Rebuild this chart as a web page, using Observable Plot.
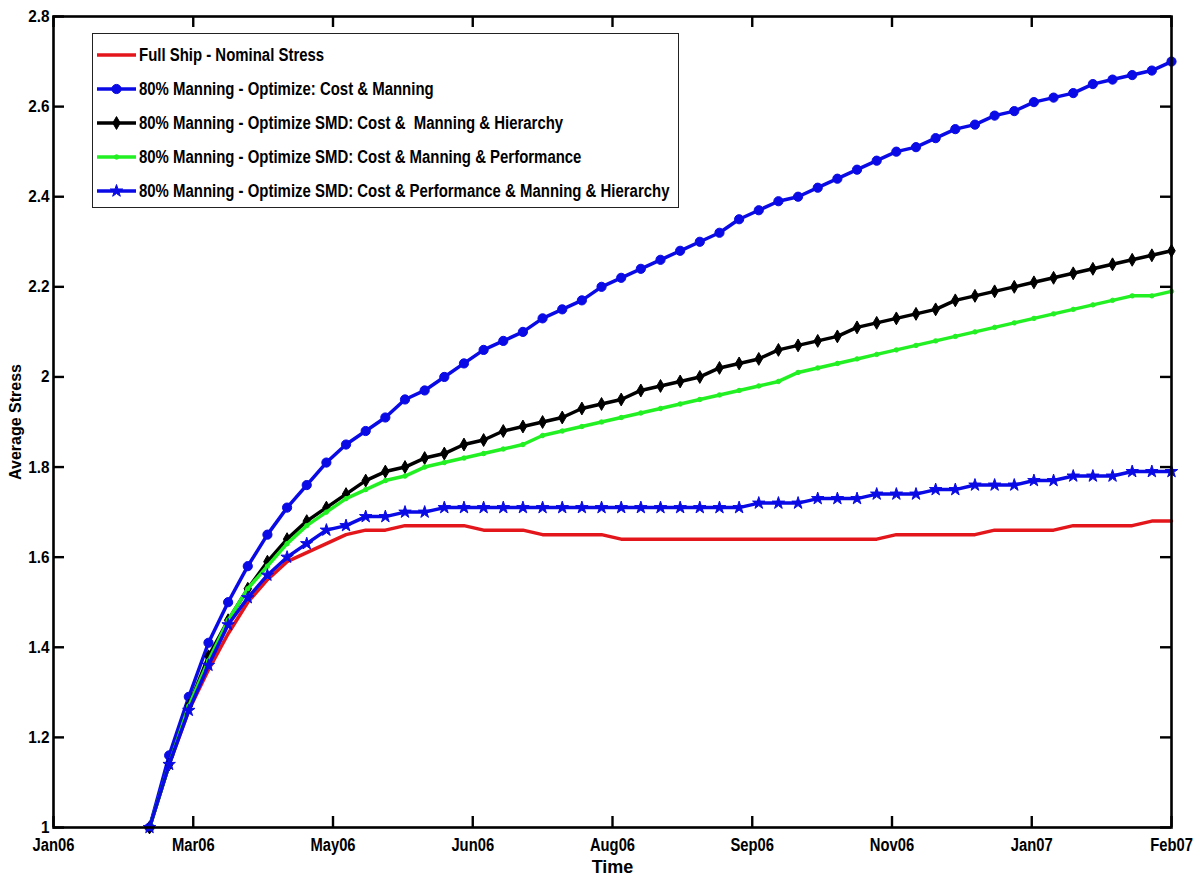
<!DOCTYPE html>
<html><head><meta charset="utf-8">
<script src="https://cdn.jsdelivr.net/npm/d3@7"></script>
<script src="https://cdn.jsdelivr.net/npm/@observablehq/plot@0.6"></script>
<style>
body{margin:0;background:#fff}
#wrap{position:relative;width:1196px;height:878px;background:#fff}
#legend{position:absolute;left:92px;top:33px;width:587px;height:175px;border:1px solid #222;background:#fff;box-sizing:border-box}
.row{position:absolute;left:0;height:34px;display:flex;align-items:center;font-family:"Liberation Sans",Arial,sans-serif;font-weight:bold;font-size:18px;white-space:nowrap;color:#000}
.row svg{display:block;margin-left:3px;margin-right:1px;flex:none}
.row span{display:inline-block;transform:scaleX(0.83);transform-origin:0 50%;white-space:pre}
</style></head><body><div id="wrap"></div>
<script>
// weekly sample index (53 weekly points)
const weeks = d3.range(53);

const fullShipNominal = [1.00,1.14,1.26,1.35,1.43,1.50,1.55,1.59,1.61,1.63,1.65,1.66,1.66,
  1.67,1.67,1.67,1.67,1.66,1.66,1.66,1.65,1.65,1.65,1.65,
  1.64,1.64,1.64,1.64,1.64,1.64,1.64,1.64,1.64,1.64,1.64,1.64,1.64,1.64,
  1.65,1.65,1.65,1.65,1.65,1.66,1.66,1.66,1.66,1.67,1.67,1.67,1.67,1.68,1.68];

const costManning = [1.00,1.16,1.29,1.41,1.50,1.58,1.65,1.71,1.76,1.81,1.85,1.88,1.91,1.95,1.97,2.00,
  2.03,2.06,2.08,2.10,2.13,2.15,2.17,2.20,2.22,2.24,2.26,2.28,2.30,2.32,2.35,2.37,2.39,2.40,
  2.42,2.44,2.46,2.48,2.50,2.51,2.53,2.55,2.56,2.58,2.59,2.61,2.62,2.63,2.65,2.66,2.67,2.68,2.70];

const costManningHierarchy = [1.00,1.14,1.27,1.38,1.46,1.53,1.59,1.64,1.68,1.71,1.74,1.77,1.79,1.80,
  1.82,1.83,1.85,1.86,1.88,1.89,1.90,1.91,1.93,1.94,1.95,1.97,1.98,1.99,2.00,2.02,2.03,2.04,2.06,
  2.07,2.08,2.09,2.11,2.12,2.13,2.14,2.15,2.17,2.18,2.19,2.20,2.21,2.22,2.23,2.24,2.25,2.26,2.27,2.28];

const costManningPerformance = [1.00,1.14,1.27,1.37,1.46,1.53,1.58,1.63,1.67,1.70,1.73,1.75,1.77,1.78,
  1.80,1.81,1.82,1.83,1.84,1.85,1.87,1.88,1.89,1.90,1.91,1.92,1.93,1.94,1.95,1.96,1.97,1.98,1.99,
  2.01,2.02,2.03,2.04,2.05,2.06,2.07,2.08,2.09,2.10,2.11,2.12,2.13,2.14,2.15,2.16,2.17,2.18,2.18,2.19];

const costPerfManningHierarchy = [1.00,1.14,1.26,1.36,1.45,1.51,1.56,1.60,1.63,1.66,1.67,1.69,1.69,1.70,1.70,
  1.71,1.71,1.71,1.71,1.71,1.71,1.71,1.71,1.71,1.71,1.71,1.71,1.71,1.71,1.71,1.71,
  1.72,1.72,1.72,1.73,1.73,1.73,1.74,1.74,1.74,1.75,1.75,1.76,1.76,1.76,1.77,1.77,1.78,1.78,1.78,1.79,1.79,1.79];

const seriesNames = [
  "Full Ship - Nominal Stress",
  "80% Manning - Optimize: Cost & Manning",
  "80% Manning - Optimize SMD: Cost &  Manning & Hierarchy",
  "80% Manning - Optimize SMD: Cost & Manning & Performance",
  "80% Manning - Optimize SMD: Cost & Performance & Manning & Hierarchy"
];
const seriesValues = [fullShipNominal, costManning, costManningHierarchy, costManningPerformance, costPerfManningHierarchy];
const seriesColors = ["#e3161c", "#0a0ae6", "#000000", "#22f022", "#0a0ae6"];
const seriesSymbols = [null, "circle", "diamond", "circle", "star"];
const seriesR = [0, 4.6, 3.9, 2.2, 3.9];

const xTickLabels = ["Jan06","Mar06","May06","Jun06","Aug06","Sep06","Nov06","Jan07","Feb07"];
const yTicks = [1, 1.2, 1.4, 1.6, 1.8, 2, 2.2, 2.4, 2.6, 2.8];
const yTickLabels = ["1","1.2","1.4","1.6","1.8","2","2.2","2.4","2.6","2.8"];

const xDomain = [-4.885, 52];
const xTicks = xTickLabels.map((_, i) => xDomain[0] + i * (xDomain[1] - xDomain[0]) / (xTickLabels.length - 1));

const W = 1196, H = 878, mL = 53, mR = 25, mT = 16, mB = 51;
const fw = W - mL - mR, fh = H - mT - mB;
const font = '"Liberation Sans",Arial,sans-serif';

const table = seriesValues.map((vals, s) => weeks.map((w, i) => ({x: w, y: vals[i], s})));

const marks = [];
table.forEach((rows, s) => {
  marks.push(Plot.line(rows, {x: "x", y: "y", stroke: seriesColors[s], strokeWidth: 3.5, strokeLinejoin: "round"}));
  if (seriesSymbols[s]) marks.push(Plot.dot(rows, {x: "x", y: "y", symbol: seriesSymbols[s], r: seriesR[s], fill: seriesColors[s], stroke: seriesColors[s], strokeWidth: 1}));
});

marks.push(
  Plot.frame({stroke: "#000", strokeWidth: 2.6}),
  Plot.tickX(xTicks, {x: d => d, insetTop: fh - 11, stroke: "#000", strokeWidth: 2.4}),
  Plot.tickX(xTicks, {x: d => d, insetBottom: fh - 11, stroke: "#000", strokeWidth: 2.4}),
  Plot.tickY(yTicks, {y: d => d, insetRight: fw - 11, stroke: "#000", strokeWidth: 2.4}),
  Plot.tickY(yTicks, {y: d => d, insetLeft: fw - 11, stroke: "#000", strokeWidth: 2.4}),
  Plot.axisX({ticks: xTicks, tickSize: 0, tickPadding: 11, label: null,
    tickFormat: d => xTickLabels[xTicks.indexOf(d)], fontFamily: font, fontSize: 18, fontWeight: "bold"}),
  Plot.axisY({ticks: yTicks, tickSize: 0, tickPadding: 4, label: null,
    tickFormat: d => yTickLabels[yTicks.indexOf(d)], fontFamily: font, fontSize: 17, fontWeight: "bold"}),
  Plot.text(["Average Stress"], {text: d => d, frameAnchor: "left", textAnchor: "middle", lineAnchor: "middle", dx: -38, rotate: -90, fontFamily: font, fontSize: 16, fontWeight: "bold"}),
  Plot.text(["Time"], {text: d => d, frameAnchor: "bottom", textAnchor: "middle", lineAnchor: "middle", dy: 40, fontFamily: font, fontSize: 18, fontWeight: "bold", ariaLabel: "time-title"})
);

const chart = Plot.plot({
  width: W, height: H, marginLeft: mL, marginRight: mR, marginTop: mT, marginBottom: mB,
  x: {type: "linear", domain: xDomain, label: null},
  y: {type: "linear", domain: [1, 2.8], label: null},
  style: {background: "#fff", color: "#000", overflow: "visible"},
  marks
});

const wrap = document.getElementById("wrap");
wrap.appendChild(chart);

// condense the narrow-bold labels (no narrow font is installed)
function condense(sel, k) {
  chart.querySelectorAll(sel).forEach(t => {
    const len = t.getComputedTextLength();
    if (len > 0) {
      t.setAttribute("textLength", (len * k).toFixed(1));
      t.setAttribute("lengthAdjust", "spacingAndGlyphs");
    }
  });
}
condense('g[aria-label="x-axis tick label"] text', 0.82);
condense('g[aria-label="time-title"] text', 0.82);
condense('g[aria-label="y-axis tick label"] text', 0.9);

// legend drawn inside the axes, top-left
const legend = document.createElement("div");
legend.id = "legend";
const symMap = {circle: d3.symbolCircle, diamond: d3.symbolDiamond, star: d3.symbolStar};
seriesNames.forEach((name, s) => {
  const row = document.createElement("div");
  row.className = "row";
  row.style.top = (4 + s * 34) + "px";
  const svg = d3.create("svg").attr("width", 42).attr("height", 34);
  svg.append("line").attr("x1", 1).attr("x2", 40).attr("y1", 17).attr("y2", 17)
    .attr("stroke", seriesColors[s]).attr("stroke-width", 3.5);
  if (seriesSymbols[s]) {
    const size = Math.PI * seriesR[s] * seriesR[s];
    svg.append("path").attr("d", d3.symbol(symMap[seriesSymbols[s]], size)())
      .attr("transform", "translate(20.5,17)").attr("fill", seriesColors[s]).attr("stroke", seriesColors[s]);
  }
  row.appendChild(svg.node());
  const span = document.createElement("span");
  span.textContent = name;
  row.appendChild(span);
  legend.appendChild(row);
});
wrap.appendChild(legend);
</script>
</body></html>
